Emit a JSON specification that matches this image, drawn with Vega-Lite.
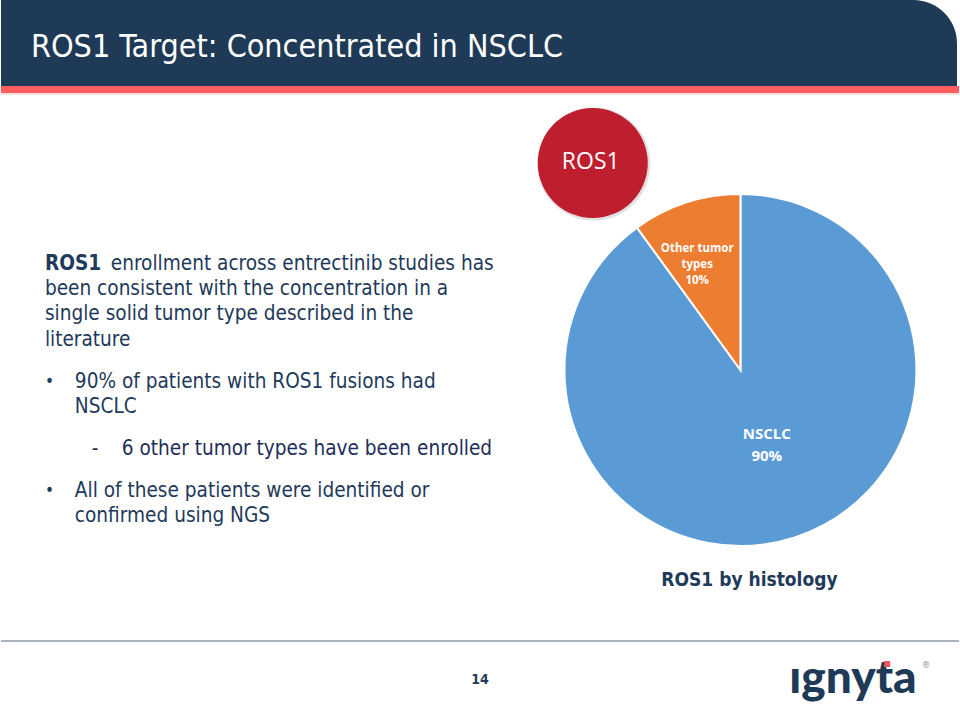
{
  "$schema": "https://vega.github.io/schema/vega-lite/v6.json",
  "width": 960,
  "height": 720,
  "autosize": {"type": "fit", "contains": "padding"},
  "padding": 0,
  "background": "#ffffff",
  "config": {"view": {"stroke": null}},
  "data": {"values": [
    {"category": "NSCLC", "share": 90, "label": "NSCLC\n90%"},
    {"category": "Other tumor types", "share": 10, "label": "Other tumor\ntypes\n10%"}
  ]},
  "layer": [
    {
      "data": {"values": [{}]},
      "mark": {"type": "rect", "color": "#1E3A57", "cornerRadiusTopRight": 52},
      "encoding": {
        "x": {"datum": 0, "type": "quantitative", "scale": {"domain": [0, 960], "nice": false, "zero": false}, "axis": null},
        "x2": {"datum": 958},
        "y": {"datum": 0, "type": "quantitative", "scale": {"domain": [0, 720], "nice": false, "zero": false, "reverse": true}, "axis": null},
        "y2": {"datum": 87}
      }
    },
    {
      "data": {"values": [{}]},
      "mark": {"type": "rect", "color": "#FF5E61"},
      "encoding": {
        "x": {"datum": 0, "type": "quantitative"},
        "x2": {"datum": 960},
        "y": {"datum": 86, "type": "quantitative"},
        "y2": {"datum": 93}
      }
    },
    {
      "data": {"values": [{}]},
      "mark": {"type": "rect", "color": "#FBE0E0"},
      "encoding": {
        "x": {"datum": 0, "type": "quantitative"},
        "x2": {"datum": 960},
        "y": {"datum": 93, "type": "quantitative"},
        "y2": {"datum": 95}
      }
    },
    {
      "data": {"values": [{}]},
      "mark": {"type": "text", "text": "ROS1 Target: Concentrated in NSCLC", "font": "DejaVu Sans Condensed, sans-serif", "fontSize": 32, "color": "#ffffff", "align": "left", "baseline": "alphabetic"},
      "encoding": {
        "x": {"datum": 30, "type": "quantitative"},
        "y": {"datum": 57, "type": "quantitative"}
      }
    },
    {
      "data": {"values": [{}]},
      "mark": {"type": "text", "text": "ROS1", "font": "DejaVu Sans Condensed, sans-serif", "fontWeight": "bold", "fontSize": 20.6, "color": "#1F3A5A", "align": "left", "baseline": "alphabetic"},
      "encoding": {
        "x": {"datum": 44, "type": "quantitative"},
        "y": {"datum": 270, "type": "quantitative"}
      }
    },
    {
      "data": {"values": [{}]},
      "mark": {"type": "text", "text": "enrollment across entrectinib studies has", "font": "DejaVu Sans Condensed, sans-serif", "fontSize": 20.6, "color": "#1F3A5A", "align": "left", "baseline": "alphabetic"},
      "encoding": {
        "x": {"datum": 110, "type": "quantitative"},
        "y": {"datum": 270, "type": "quantitative"}
      }
    },
    {
      "data": {"values": [{}]},
      "mark": {"type": "text", "text": ["been consistent with the concentration in a", "single solid tumor type described in the", "literature"], "lineHeight": 25.3, "font": "DejaVu Sans Condensed, sans-serif", "fontSize": 20.6, "color": "#1F3A5A", "align": "left", "baseline": "alphabetic"},
      "encoding": {
        "x": {"datum": 44, "type": "quantitative"},
        "y": {"datum": 295, "type": "quantitative"}
      }
    },
    {
      "data": {"values": [{}]},
      "mark": {"type": "text", "text": "•", "font": "DejaVu Sans Condensed, sans-serif", "fontSize": 17, "color": "#1F3A5A", "align": "left", "baseline": "alphabetic"},
      "encoding": {
        "x": {"datum": 44, "type": "quantitative"},
        "y": {"datum": 387, "type": "quantitative"}
      }
    },
    {
      "data": {"values": [{}]},
      "mark": {"type": "text", "text": ["90% of patients with ROS1 fusions had", "NSCLC"], "lineHeight": 25.3, "font": "DejaVu Sans Condensed, sans-serif", "fontSize": 20.6, "color": "#1F3A5A", "align": "left", "baseline": "alphabetic"},
      "encoding": {
        "x": {"datum": 74, "type": "quantitative"},
        "y": {"datum": 388, "type": "quantitative"}
      }
    },
    {
      "data": {"values": [{}]},
      "mark": {"type": "text", "text": "-", "font": "DejaVu Sans Condensed, sans-serif", "fontSize": 20.6, "color": "#1F2F5A", "align": "left", "baseline": "alphabetic"},
      "encoding": {
        "x": {"datum": 91, "type": "quantitative"},
        "y": {"datum": 455, "type": "quantitative"}
      }
    },
    {
      "data": {"values": [{}]},
      "mark": {"type": "text", "text": "6 other tumor types have been enrolled", "font": "DejaVu Sans Condensed, sans-serif", "fontSize": 20.6, "color": "#1F2F5A", "align": "left", "baseline": "alphabetic"},
      "encoding": {
        "x": {"datum": 121, "type": "quantitative"},
        "y": {"datum": 455, "type": "quantitative"}
      }
    },
    {
      "data": {"values": [{}]},
      "mark": {"type": "text", "text": "•", "font": "DejaVu Sans Condensed, sans-serif", "fontSize": 17, "color": "#1F3A5A", "align": "left", "baseline": "alphabetic"},
      "encoding": {
        "x": {"datum": 44, "type": "quantitative"},
        "y": {"datum": 496, "type": "quantitative"}
      }
    },
    {
      "data": {"values": [{}]},
      "mark": {"type": "text", "text": ["All of these patients were identified or", "confirmed using NGS"], "lineHeight": 25.3, "font": "DejaVu Sans Condensed, sans-serif", "fontSize": 20.6, "color": "#1F3A5A", "align": "left", "baseline": "alphabetic"},
      "encoding": {
        "x": {"datum": 74, "type": "quantitative"},
        "y": {"datum": 497, "type": "quantitative"}
      }
    },
    {
      "data": {"values": [{}]},
      "mark": {"type": "point", "shape": "circle", "filled": true, "size": 12800, "color": "#000000", "opacity": 0.12},
      "encoding": {
        "x": {"datum": 594, "type": "quantitative"},
        "y": {"datum": 164, "type": "quantitative"}
      }
    },
    {
      "data": {"values": [{}]},
      "mark": {"type": "point", "shape": "circle", "filled": true, "size": 12100, "color": "#BE1E2D", "opacity": 1},
      "encoding": {
        "x": {"datum": 593, "type": "quantitative"},
        "y": {"datum": 163, "type": "quantitative"}
      }
    },
    {
      "data": {"values": [{}]},
      "mark": {"type": "text", "text": "ROS1", "font": "Open Sans, sans-serif", "fontSize": 23, "color": "#ffffff", "align": "center", "baseline": "middle"},
      "encoding": {
        "x": {"datum": 591, "type": "quantitative"},
        "y": {"datum": 162, "type": "quantitative"}
      }
    },
    {
      "mark": {"type": "arc", "outerRadius": 176, "stroke": "#ffffff", "strokeWidth": 2},
      "encoding": {
        "x": {"datum": 741, "type": "quantitative"},
        "y": {"datum": 370, "type": "quantitative"},
        "theta": {"field": "share", "type": "quantitative", "stack": true},
        "color": {"field": "category", "type": "nominal", "scale": {"domain": ["NSCLC", "Other tumor types"], "range": ["#5B9BD5", "#ED7D31"]}, "legend": null},
        "order": {"field": "category", "type": "nominal", "sort": "ascending"}
      }
    },
    {
      "mark": {"type": "text", "radius": 69, "dx": 5, "dy": -2, "lineBreak": "\n", "lineHeight": 22, "font": "Open Sans, sans-serif", "fontWeight": "bold", "fontSize": 15, "color": "#ffffff", "align": "center", "baseline": "middle"},
      "encoding": {
        "x": {"datum": 741, "type": "quantitative"},
        "y": {"datum": 370, "type": "quantitative"},
        "theta": {"field": "share", "type": "quantitative", "stack": true},
        "order": {"field": "category", "type": "nominal", "sort": "ascending"},
        "text": {"condition": {"test": "datum.category === 'NSCLC'", "field": "label"}, "value": ""}
      }
    },
    {
      "mark": {"type": "text", "radius": 127, "dx": -4, "dy": 0, "lineBreak": "\n", "lineHeight": 16, "font": "Open Sans, sans-serif", "fontWeight": "bold", "fontSize": 11.5, "color": "#ffffff", "align": "center", "baseline": "middle"},
      "encoding": {
        "x": {"datum": 741, "type": "quantitative"},
        "y": {"datum": 370, "type": "quantitative"},
        "theta": {"field": "share", "type": "quantitative", "stack": true},
        "order": {"field": "category", "type": "nominal", "sort": "ascending"},
        "text": {"condition": {"test": "datum.category !== 'NSCLC'", "field": "label"}, "value": ""}
      }
    },
    {
      "data": {"values": [{}]},
      "mark": {"type": "text", "text": "ROS1 by histology", "font": "DejaVu Sans Condensed, sans-serif", "fontWeight": "bold", "fontSize": 19, "color": "#1F3A5A", "align": "center", "baseline": "alphabetic"},
      "encoding": {
        "x": {"datum": 750, "type": "quantitative"},
        "y": {"datum": 586, "type": "quantitative"}
      }
    },
    {
      "data": {"values": [{}]},
      "mark": {"type": "rule", "color": "#8E9AA6", "strokeWidth": 1.5},
      "encoding": {
        "x": {"datum": 0, "type": "quantitative"},
        "x2": {"datum": 960},
        "y": {"datum": 641, "type": "quantitative"}
      }
    },
    {
      "data": {"values": [{}]},
      "mark": {"type": "text", "text": "14", "font": "DejaVu Sans Condensed, sans-serif", "fontWeight": "bold", "fontSize": 14, "color": "#1F3A5A", "align": "center", "baseline": "alphabetic"},
      "encoding": {
        "x": {"datum": 480, "type": "quantitative"},
        "y": {"datum": 684, "type": "quantitative"}
      }
    },
    {
      "data": {"values": [{}]},
      "mark": {"type": "text", "text": "ıgnyta", "font": "Lato, sans-serif", "fontWeight": 900, "fontSize": 46, "color": "#1E3A57", "align": "left", "baseline": "alphabetic"},
      "encoding": {
        "x": {"datum": 790, "type": "quantitative"},
        "y": {"datum": 693, "type": "quantitative"}
      }
    },
    {
      "data": {"values": [{}]},
      "mark": {"type": "rect", "color": "#F0565B"},
      "encoding": {
        "x": {"datum": 885, "type": "quantitative"},
        "x2": {"datum": 891},
        "y": {"datum": 661, "type": "quantitative"},
        "y2": {"datum": 667}
      }
    },
    {
      "data": {"values": [{}]},
      "mark": {"type": "text", "text": "®", "font": "DejaVu Sans, sans-serif", "fontSize": 9, "color": "#8A8F96", "align": "center", "baseline": "middle"},
      "encoding": {
        "x": {"datum": 927, "type": "quantitative"},
        "y": {"datum": 665, "type": "quantitative"}
      }
    }
  ]
}
